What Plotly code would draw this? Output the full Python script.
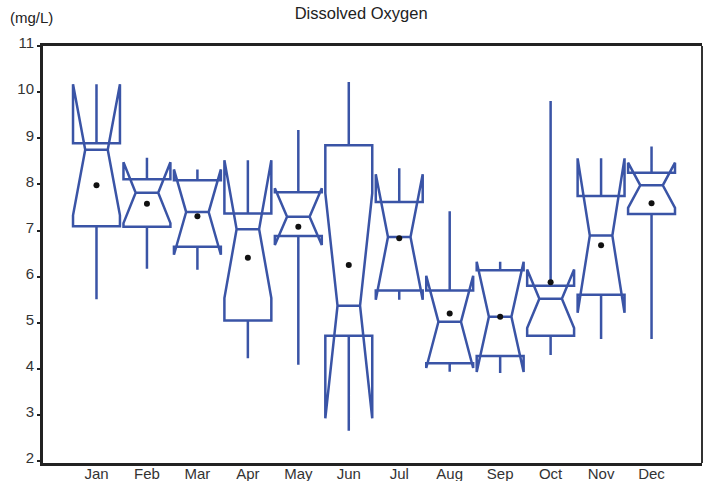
import plotly.graph_objs as go

# Oxígeno disuelto por mes (mg/L)
months = ["Jan", "Feb", "Mar", "Apr", "May", "Jun",
          "Jul", "Aug", "Sep", "Oct", "Nov", "Dec"]
q1 = [7.09, 7.08, 6.65, 5.05, 6.88, 4.72, 5.70, 4.12, 4.28, 4.72, 5.61, 7.36]
median = [8.75, 7.82, 7.40, 7.03, 7.30, 5.37, 6.86, 5.02, 5.13, 5.52, 6.89, 7.98]
q3 = [8.89, 8.11, 8.09, 7.37, 7.83, 8.85, 7.62, 5.70, 6.14, 5.80, 7.75, 8.25]
lower = [5.51, 6.17, 6.15, 4.23, 4.09, 2.66, 5.59, 3.94, 3.91, 4.30, 4.65, 4.65]
upper = [8.95, 8.58, 8.18, 7.80, 9.18, 10.22, 8.35, 7.42, 6.21, 9.81, 8.27, 8.82]
notch = [1.42, 0.66, 0.925, 1.495, 0.615, 2.44, 1.36, 1.0, 1.195, 0.635, 1.675, 0.49]
means = [7.98, 7.58, 7.31, 6.41, 7.08, 6.25, 6.83, 5.20, 5.13, 5.88, 6.68, 7.59]

blue = "#3a54a6"

fig = go.Figure()

fig.add_trace(go.Box(
    x=months,
    q1=q1,
    median=median,
    q3=q3,
    lowerfence=lower,
    upperfence=upper,
    notchspan=notch,
    notched=True,
    notchwidth=0.26,
    whiskerwidth=0,
    width=0.93,
    line=dict(color=blue, width=2.5),
    fillcolor="rgba(0,0,0,0)",
    boxpoints=False,
    hoverinfo="skip"
))

fig.add_trace(go.Scatter(
    x=months,
    y=means,
    mode="markers",
    marker=dict(color="#111111", size=6),
    hoverinfo="skip"
))

fig.update_layout(
    width=704,
    height=481,
    margin=dict(l=43, r=2, t=46, b=18, autoexpand=False),
    paper_bgcolor="white",
    plot_bgcolor="white",
    showlegend=False,
    font=dict(family="Liberation Sans, Arial, sans-serif", size=15, color="#222222"),
    title=dict(text="Dissolved Oxygen", x=0.513, xanchor="center",
               y=0.973, yanchor="middle", font=dict(size=16.5, color="#222222")),
    xaxis=dict(
        type="category",
        range=[-1.06, 12.0],
        automargin=False,
        showline=True,
        linecolor="#222222",
        linewidth=3,
        mirror=True,
        ticks="",
        ticklabelstandoff=-5,
        showgrid=False,
        zeroline=False,
        tickfont=dict(size=15, color="#333333")
    ),
    yaxis=dict(
        range=[1.96, 11.0],
        tickvals=[2, 3, 4, 5, 6, 7, 8, 9, 10, 11],
        automargin=False,
        showline=True,
        linecolor="#222222",
        linewidth=3,
        ticks="outside",
        ticklen=3,
        tickwidth=2,
        tickcolor="#222222",
        ticklabelshift=-3,
        showgrid=False,
        zeroline=False,
        tickfont=dict(size=15, color="#333333")
    ),
    shapes=[
        dict(type="line", xref="paper", yref="paper", x0=1, x1=1, y0=0, y1=1,
             line=dict(color="#333333", width=2))
    ],
    annotations=[
        dict(text="(mg/L)", xref="paper", yref="paper", x=-0.018, y=1.0695,
             xanchor="center", yanchor="middle", showarrow=False,
             font=dict(size=15, color="#222222"))
    ]
)

# quitar el margen del body para que la figura quede en (0,0)
fig.write_html("out.html",
               config={"displayModeBar": False},
               post_script="document.body.style.margin='0';document.body.style.overflow='hidden';")
